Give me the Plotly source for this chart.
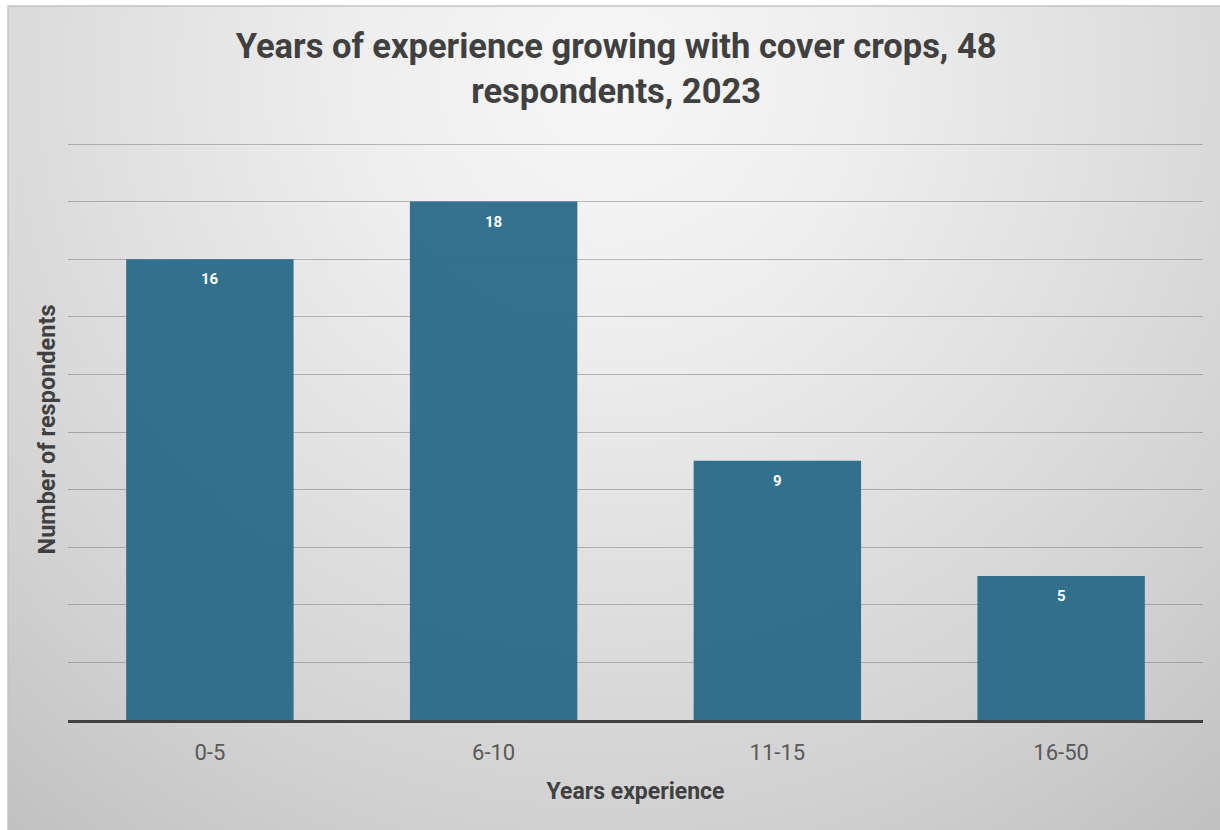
import base64
import plotly.graph_objects as go

# Survey data
categories = ["0-5", "6-10", "11-15", "16-50"]
respondents = [16, 18, 9, 5]

title_text = "Years of experience growing with cover crops, 48<br>respondents, 2023"
x_title = "Years experience"
y_title = "Number of respondents"

W, H = 1220, 830
M_L, M_R, M_T, M_B = 68, 17, 139, 110
plot_w = W - M_L - M_R
plot_h = H - M_T - M_B
# a little headroom above 20 so the top gridline is drawn
Y_MAX = 20 * plot_h / 576

FONT = "Roboto, Arial, sans-serif"

# Soft radial background behind the whole chart frame
frame_x0, frame_y0 = 8, 6
fw, fh = W - frame_x0, H - frame_y0
svg = f"""<svg xmlns='http://www.w3.org/2000/svg' width='{fw}' height='{fh}' viewBox='0 0 {fw} {fh}'>
<defs><radialGradient id='g' gradientUnits='userSpaceOnUse' cx='600' cy='70' r='1000'>
<stop offset='0' stop-color='#f7f7f7'/>
<stop offset='0.25' stop-color='#eeeeee'/>
<stop offset='0.5' stop-color='#e0e0e0'/>
<stop offset='0.75' stop-color='#d1d1d1'/>
<stop offset='1' stop-color='#bebebe'/>
</radialGradient></defs>
<rect width='{fw}' height='{fh}' fill='url(#g)'/>
</svg>"""
bg_uri = "data:image/svg+xml;base64," + base64.b64encode(svg.encode()).decode()

fig = go.Figure()
fig.add_trace(go.Bar(
    x=categories,
    y=respondents,
    marker=dict(color="#286989", opacity=0.95, line=dict(width=0)),
    hoverinfo="x+y",
))

# Value labels just inside the top of each bar
for cat, val in zip(categories, respondents):
    fig.add_annotation(
        x=cat, y=val, text=str(val), showarrow=False,
        yanchor="middle", yshift=-20,
        font=dict(color="white", size=15, family=FONT, weight="bold"),
    )

fig.update_layout(
    width=W, height=H,
    margin=dict(l=M_L, r=M_R, t=M_T, b=M_B),
    paper_bgcolor="white",
    plot_bgcolor="rgba(0,0,0,0)",
    bargap=0.41,
    showlegend=False,
    title=dict(
        text=title_text,
        x=0.505, xanchor="center",
        y=1 - 58 / H, yanchor="top",
        font=dict(size=34.5, color="#404040", family=FONT, weight="bold"),
    ),
    images=[dict(
        source=bg_uri, xref="paper", yref="paper",
        x=(frame_x0 - M_L) / plot_w, y=(H - M_B - frame_y0) / plot_h,
        sizex=fw / plot_w, sizey=fh / plot_h,
        xanchor="left", yanchor="top", sizing="stretch", layer="below",
    )],
    shapes=[dict(
        type="rect", xref="paper", yref="paper",
        x0=(frame_x0 - M_L) / plot_w, x1=(W - M_L) / plot_w + 0.01,
        y0=-(M_B + 10) / plot_h, y1=(H - M_B - frame_y0) / plot_h,
        line=dict(color="#c4c4c4", width=1.5), fillcolor="rgba(0,0,0,0)", layer="below",
    )],
)

fig.update_xaxes(
    showline=True, linecolor="#404040", linewidth=3,
    showgrid=False, ticks="outside", ticklen=11, tickcolor="rgba(0,0,0,0)",
    tickfont=dict(size=22, color="#595959", family=FONT),
    title=dict(text=x_title, standoff=19,
               font=dict(size=23, color="#404040", family=FONT, weight="bold")),
)
fig.update_yaxes(
    range=[0, Y_MAX], dtick=2,
    showticklabels=False, ticks="",
    showgrid=True, gridcolor="rgba(90,90,90,0.38)", gridwidth=1,
    zeroline=False, showline=False,
    title=dict(text=y_title, standoff=4,
               font=dict(size=23.5, color="#404040", family=FONT, weight="bold")),
)

fig.write_html("out.html")
